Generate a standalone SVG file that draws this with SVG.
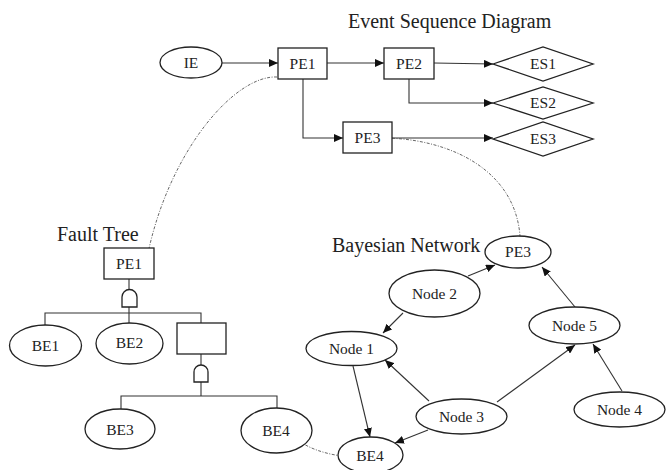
<svg xmlns="http://www.w3.org/2000/svg" width="666" height="470" viewBox="0 0 666 470">
<defs>
<marker id="arr" markerUnits="userSpaceOnUse" markerWidth="9" markerHeight="8" refX="9" refY="4" orient="auto">
<path d="M0,0 L9,4 L0,8 z" fill="#111"/>
</marker>
<style>
.n{fill:#fff;stroke:#222;stroke-width:1.3}
.t{font-family:"Liberation Serif","Times New Roman",serif;font-size:15.5px;fill:#222;text-anchor:middle}
.h{font-family:"Liberation Serif","Times New Roman",serif;font-size:20px;fill:#222}
.c{fill:none;stroke:#333;stroke-width:1.1}
.a{fill:none;stroke:#333;stroke-width:1.1;marker-end:url(#arr)}
.d{fill:none;stroke:#555;stroke-width:0.9;stroke-dasharray:3,1.5,1,1.5}
</style>
</defs>
<rect width="666" height="470" fill="#fff"/>

<text class="h" x="348" y="28">Event Sequence Diagram</text>
<text class="h" x="57" y="241">Fault Tree</text>
<text class="h" x="332" y="252">Bayesian Network</text>

<g id="connectors">
<path class="a" d="M222,63 L278,63"/>
<path class="a" d="M327,63 L384,63"/>
<path class="a" d="M434,63 L493,64"/>
<path class="a" d="M409,79 L409,103 L493,103"/>
<path class="a" d="M303,79 L303,138 L343,138"/>
<path class="a" d="M392,138 L493,138"/>
<path class="c" d="M129,279 L129,290"/>
<path class="c" d="M129,307 L129,313"/>
<path class="c" d="M45,325 L45,313 L201,313 L201,323"/>
<path class="c" d="M129,313 L129,323"/>
<path class="c" d="M201,354 L201,365"/>
<path class="c" d="M201,382 L201,396"/>
<path class="c" d="M121,409 L121,396 L277,396 L277,409"/>
<path class="a" d="M468,276 L495,265"/>
<path class="a" d="M403,313 L383,333"/>
<path class="a" d="M575,307 L542,267"/>
<path class="a" d="M622,391 L593,344"/>
<path class="a" d="M429,401 L385,360"/>
<path class="a" d="M497,402 L575,345"/>
<path class="a" d="M353,366 L370,437"/>
<path class="a" d="M428,430 L395,443"/>
<path class="d" d="M277,77 C235,75 170,150 148,253"/>
<path class="d" d="M385,138 C450,139 515,170 520,236"/>
<path class="d" d="M290,431 C300,448 330,456 353,457"/>
</g>

<g id="IE"><ellipse class="n" cx="191" cy="62.5" rx="31" ry="15.5"/><text class="t" x="191" y="68">IE</text></g>
<g id="ESD_PE1"><rect class="n" x="278" y="48" width="49" height="31"/><text class="t" x="302.5" y="69">PE1</text></g>
<g id="ESD_PE2"><rect class="n" x="384" y="48" width="50" height="31"/><text class="t" x="409" y="69">PE2</text></g>
<g id="ESD_PE3"><rect class="n" x="343" y="122" width="49" height="31"/><text class="t" x="367.5" y="143">PE3</text></g>
<g id="ES1"><polygon class="n" points="493,64 543,47 593,64 543,81"/><text class="t" x="543" y="69">ES1</text></g>
<g id="ES2"><polygon class="n" points="493,103 543,87 593,103 543,119"/><text class="t" x="543" y="108">ES2</text></g>
<g id="ES3"><polygon class="n" points="493,139 543,122 593,139 543,156"/><text class="t" x="543" y="144">ES3</text></g>

<g id="FT_PE1"><rect class="n" x="104" y="248" width="50" height="31"/><text class="t" x="129" y="269">PE1</text></g>
<g id="gate1"><path class="n" d="M122,307 L122,297 A7.5,7.5 0 0 1 137,297 L137,307 Z"/></g>
<g id="BE1"><ellipse class="n" cx="45.5" cy="345.5" rx="36" ry="20.5"/><text class="t" x="45.5" y="351">BE1</text></g>
<g id="BE2"><ellipse class="n" cx="129.5" cy="343.5" rx="33.5" ry="20.5"/><text class="t" x="129.5" y="348">BE2</text></g>
<g id="intermediate"><rect class="n" x="177" y="323" width="49" height="31"/></g>
<g id="gate2"><path class="n" d="M194,382 L194,372 A7,7 0 0 1 208,372 L208,382 Z"/></g>
<g id="BE3"><ellipse class="n" cx="120" cy="429" rx="35" ry="20"/><text class="t" x="120" y="435">BE3</text></g>
<g id="FT_BE4"><ellipse class="n" cx="276.5" cy="430.5" rx="35.5" ry="22.5"/><text class="t" x="276" y="436">BE4</text></g>

<g id="BN_PE3"><ellipse class="n" cx="518" cy="252" rx="33" ry="16"/><text class="t" x="518" y="257">PE3</text></g>
<g id="Node2"><ellipse class="n" cx="434.5" cy="293.5" rx="45.5" ry="23.5"/><text class="t" x="434.5" y="299">Node 2</text></g>
<g id="Node1"><ellipse class="n" cx="351.5" cy="348.5" rx="45.5" ry="17"/><text class="t" x="351.5" y="354">Node 1</text></g>
<g id="Node5"><ellipse class="n" cx="574.5" cy="325.5" rx="45.5" ry="18.5"/><text class="t" x="574.5" y="331">Node 5</text></g>
<g id="Node3"><ellipse class="n" cx="461.5" cy="416.5" rx="45.5" ry="17.5"/><text class="t" x="461.5" y="422">Node 3</text></g>
<g id="Node4"><ellipse class="n" cx="619.5" cy="409.5" rx="45.5" ry="17.5"/><text class="t" x="619.5" y="415">Node 4</text></g>
<g id="BN_BE4"><ellipse class="n" cx="370.5" cy="455" rx="32.5" ry="18"/><text class="t" x="370" y="461">BE4</text></g>
</svg>
